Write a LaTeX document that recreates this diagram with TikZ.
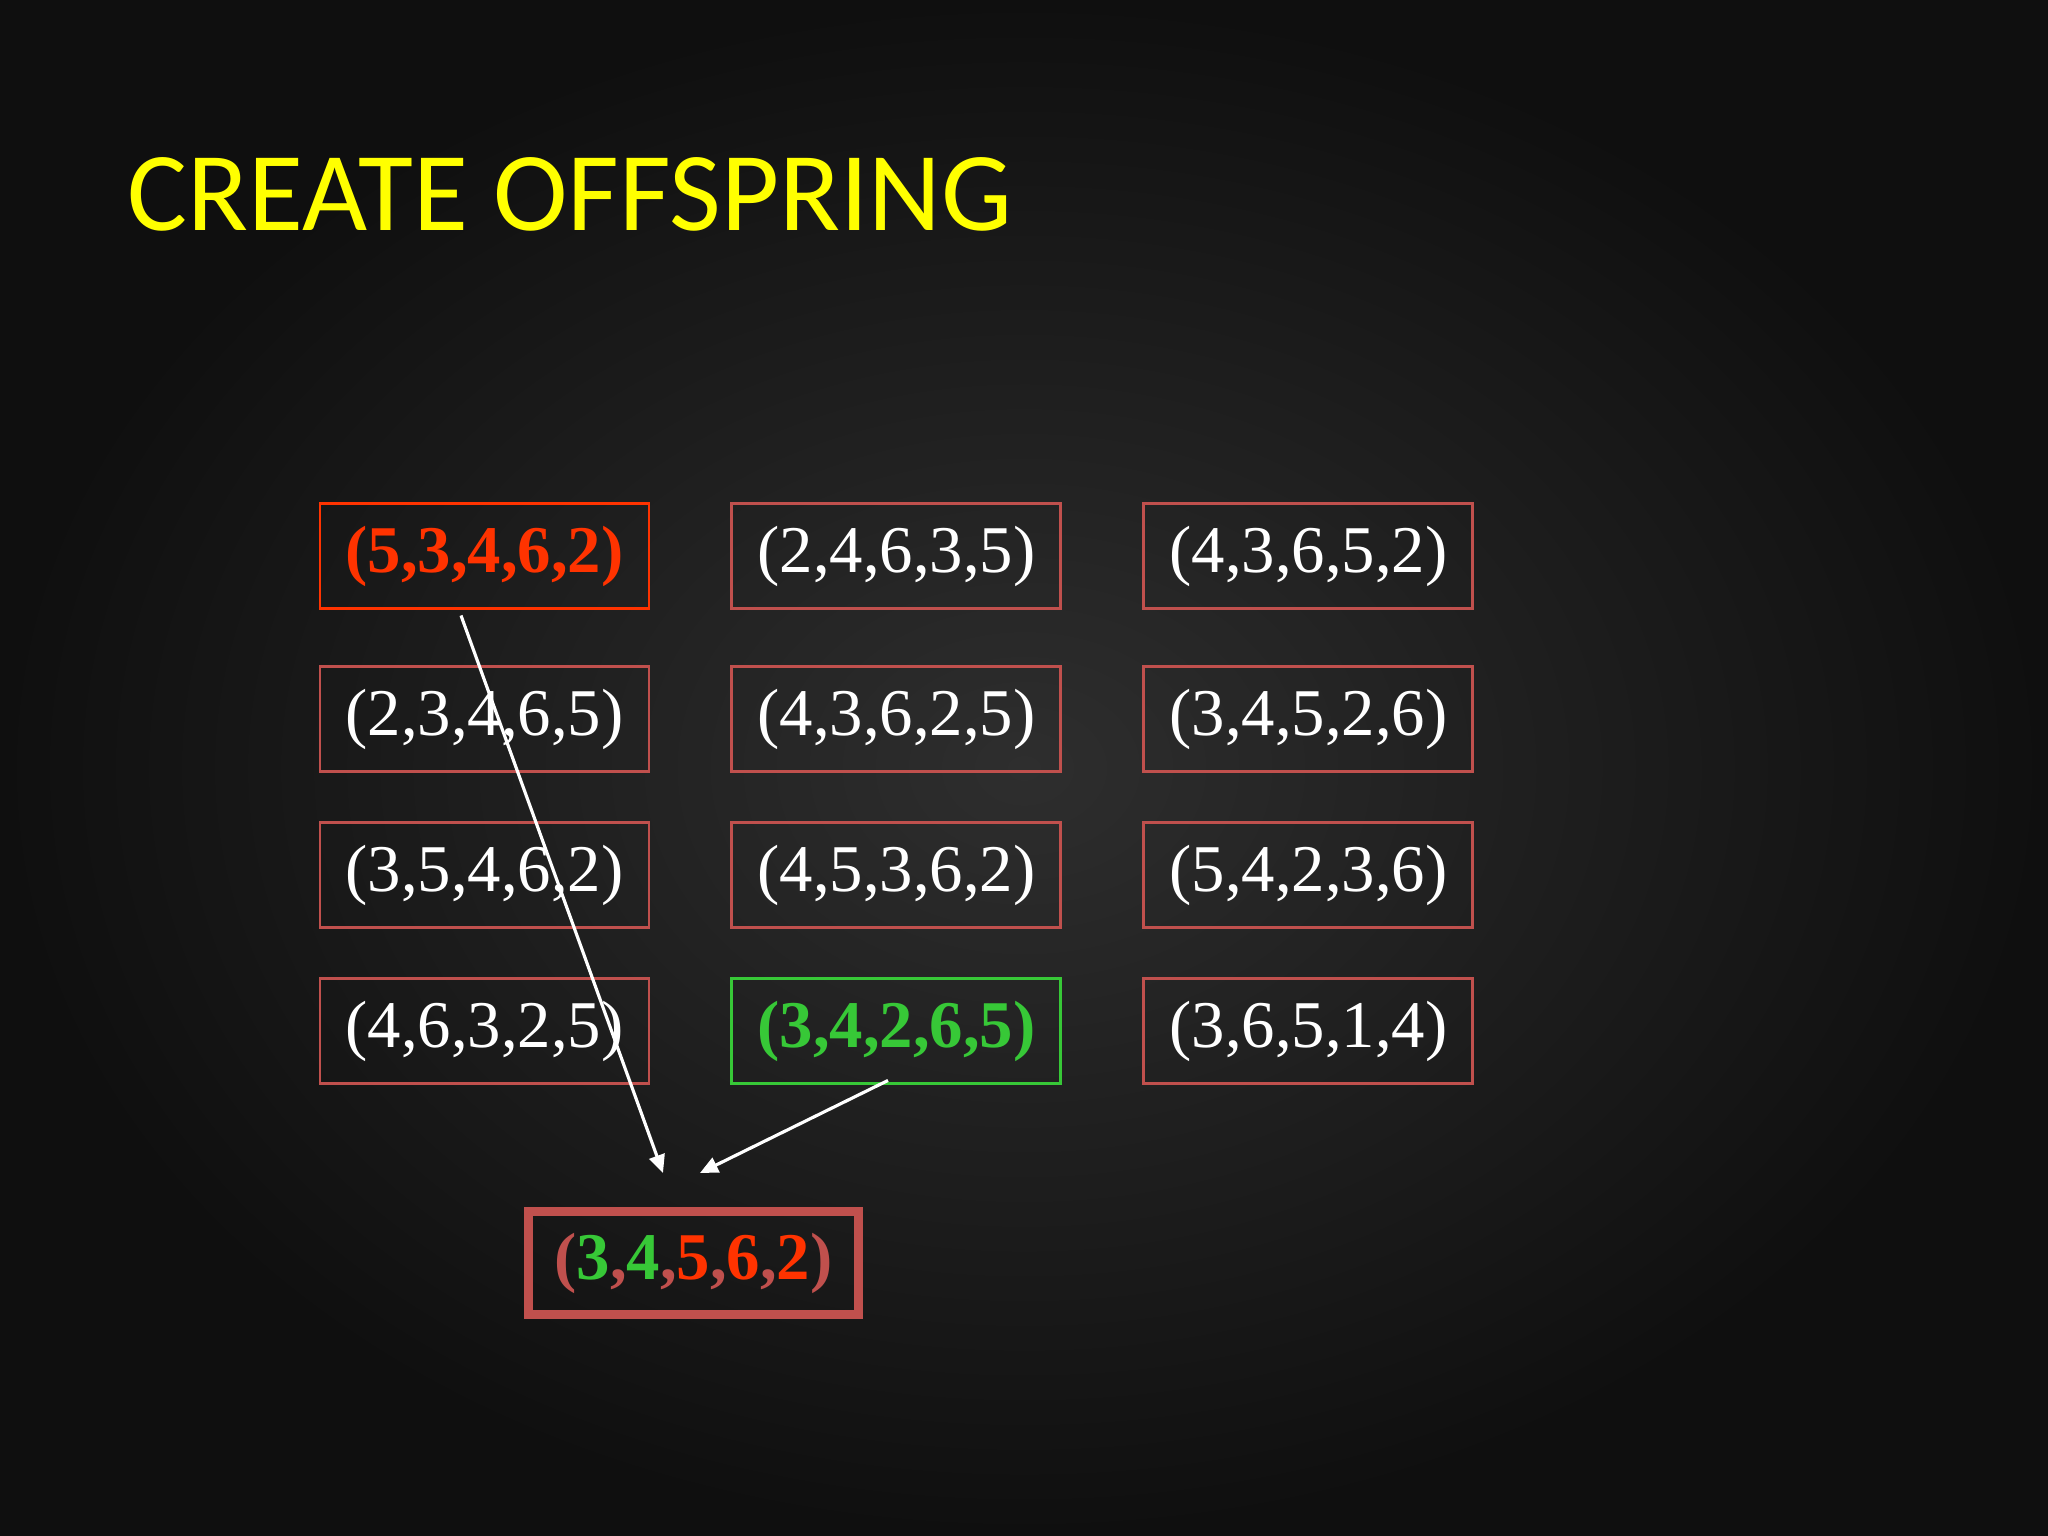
\documentclass[tikz,border=0pt]{standalone}
\usepackage{fontspec}
\setmainfont{Liberation Serif}
\newfontfamily\titlefont{Carlito}
\usetikzlibrary{arrows.meta,positioning}
\definecolor{boxred}{RGB}{192,80,77}
\definecolor{parentred}{RGB}{255,51,0}
\definecolor{parentgreen}{RGB}{55,200,55}
\definecolor{titleyellow}{RGB}{255,255,0}
\definecolor{bgcentre}{RGB}{46,46,46}
\definecolor{bgedge}{RGB}{15,15,15}
\tikzset{>={Triangle[width=1.6mm,length=1.8mm]}}
\tikzset{chrom/.style={shape=rectangle, draw=boxred, line width=0.85pt, text=white,
    minimum width=3.29cm, minimum height=1.05cm, inner sep=0pt,
    font=\fontsize{19}{22}\selectfont}}
\tikzset{parent/.style={chrom, draw=#1, text=#1, font=\fontsize{19}{22}\selectfont\bfseries}}
\tikzset{child/.style={chrom, line width=2.3pt, minimum width=3.3cm, minimum height=1.03cm,
    font=\fontsize{19}{22}\selectfont\bfseries}}

\begin{document}
\begin{tikzpicture}
    \useasboundingbox (0,0) rectangle (20.48,-15.36);
    \shade[inner color=bgcentre, outer color=bgedge] (0,0) rectangle (20.48,-15.36);

    \node(title) [anchor=base west, text=titleyellow, font=\titlefont\fontsize{32}{38}\selectfont]
        at (1.15,-2.31) {CREATE OFFSPRING};

    \node(c11)[parent=parentred] at (4.845,-5.56)      {(5,3,4,6,2)};
    \node(c12)[chrom] [right=0.80cm of c11]             {(2,4,6,3,5)};
    \node(c13)[chrom] [right=0.80cm of c12]             {(4,3,6,5,2)};

    \node(c21)[chrom] [below=0.55cm of c11]             {(2,3,4,6,5)};
    \node(c22)[chrom] [right=0.80cm of c21]             {(4,3,6,2,5)};
    \node(c23)[chrom] [right=0.80cm of c22]             {(3,4,5,2,6)};

    \node(c31)[chrom] [below=0.48cm of c21]             {(3,5,4,6,2)};
    \node(c32)[chrom] [right=0.80cm of c31]             {(4,5,3,6,2)};
    \node(c33)[chrom] [right=0.80cm of c32]             {(5,4,2,3,6)};

    \node(c41)[chrom] [below=0.48cm of c31]             {(4,6,3,2,5)};
    \node(c42)[parent=parentgreen] [right=0.80cm of c41] {(3,4,2,6,5)};
    \node(c43)[chrom] [right=0.80cm of c42]             {(3,6,5,1,4)};

    \node(off)[child] at (6.935,-12.63) {\textcolor{boxred}{(}\textcolor{parentgreen}{3}\textcolor{boxred}{,}\textcolor{parentgreen}{4}\textcolor{boxred}{,}\textcolor{parentred}{5}\textcolor{boxred}{,}\textcolor{parentred}{6}\textcolor{boxred}{,}\textcolor{parentred}{2}\textcolor{boxred}{)}};

    \coordinate (fromred)   at ([shift={(-0.235,-0.055)}]c11.south);
    \coordinate (fromgreen) at ([shift={(-0.085,0.045)}]c42.south);
    \coordinate (tored)     at ([shift={(-0.305,0.345)}]off.north);
    \coordinate (togreen)   at ([shift={(0.065,0.345)}]off.north);

    \draw [->][draw=white, line width=0.9pt] (fromred) -- (tored);
    \draw [->][draw=white, line width=0.9pt] (fromgreen) -- (togreen);
\end{tikzpicture}
\end{document}
